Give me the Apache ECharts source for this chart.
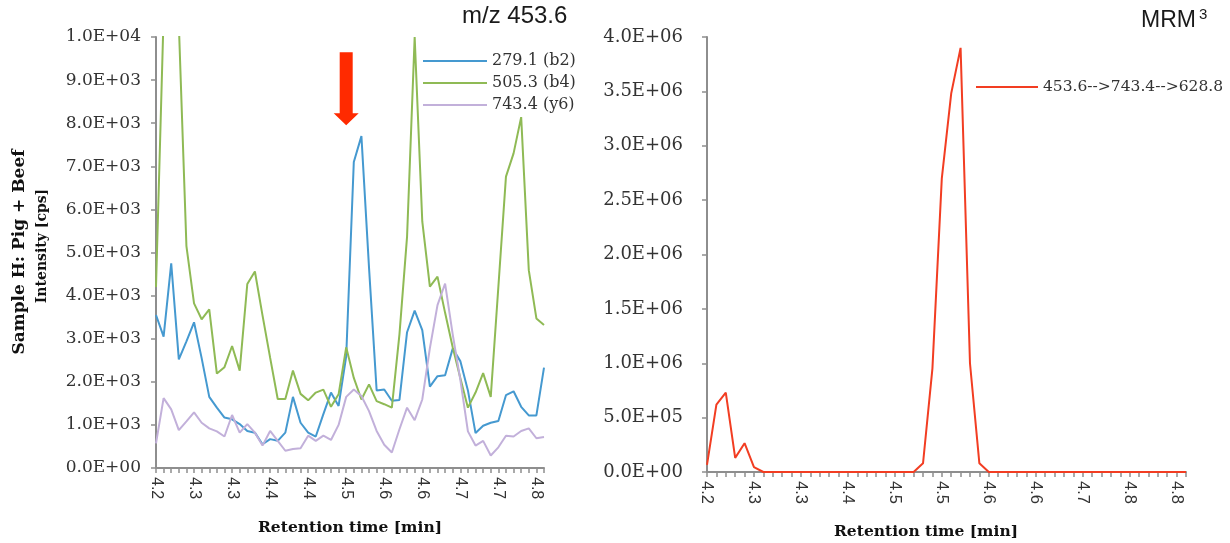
<!DOCTYPE html>
<html>
<head>
<meta charset="utf-8">
<title>Sample H: Pig + Beef</title>
<script src="https://cdn.jsdelivr.net/npm/echarts@6/dist/echarts.min.js"></script>
<style>
  html, body { margin: 0; padding: 0; background: #fff; }
  #chart { width: 1230px; height: 543px; }
</style>
</head>
<body>
<div id="chart"></div>
<script>
// retention times (min), one per scan
var leftTimes = ['4.200','4.212','4.224','4.236','4.248','4.260','4.272','4.284','4.296','4.308',
  '4.320','4.332','4.344','4.356','4.368','4.380','4.392','4.404','4.416','4.428',
  '4.440','4.452','4.464','4.476','4.488','4.500','4.512','4.524','4.536','4.548',
  '4.560','4.572','4.584','4.596','4.608','4.620','4.632','4.644','4.656','4.668',
  '4.680','4.692','4.704','4.716','4.728','4.740','4.752','4.764','4.776','4.788',
  '4.800','4.812'];
var rightTimes = ['4.200','4.213','4.225','4.238','4.250','4.263','4.276','4.288','4.301','4.313',
  '4.326','4.339','4.351','4.364','4.376','4.389','4.402','4.414','4.427','4.439',
  '4.452','4.465','4.477','4.490','4.502','4.515','4.528','4.540','4.553','4.565',
  '4.578','4.591','4.603','4.616','4.628','4.641','4.654','4.666','4.679','4.691',
  '4.704','4.717','4.729','4.742','4.754','4.767','4.780','4.792','4.805','4.817',
  '4.830','4.843'];

// intensities [cps]
var b2 = [3550,3050,4750,2520,2940,3380,2550,1650,1400,1170,
  1130,1020,860,820,550,670,630,820,1650,1050,
  820,730,1250,1750,1440,2590,7100,7700,4650,1800,
  1820,1560,1580,3150,3650,3200,1890,2130,2150,2770,
  2480,1800,810,980,1050,1090,1690,1780,1420,1220,
  1220,2330];
var b4 = [4200,10500,14000,10300,5150,3820,3450,3680,2190,2340,
  2830,2260,4270,4560,3540,2560,1600,1600,2260,1720,
  1570,1750,1820,1420,1710,2800,2090,1590,1940,1550,
  1480,1400,3100,5370,10000,5720,4210,4440,3600,2800,
  2090,1400,1750,2200,1650,4200,6760,7300,8140,4590,
  3470,3320];
var y6 = [570,1620,1360,880,1080,1290,1050,920,850,730,
  1230,820,1020,820,520,860,630,400,440,460,
  750,630,750,650,1000,1650,1820,1670,1320,860,
  540,360,900,1400,1110,1590,2780,3780,4280,3100,
  2050,850,520,630,290,480,750,730,860,920,
  690,720];
var mrm3 = [65000,620000,730000,130000,265000,45000,0,0,0,0,
  0,0,0,0,0,0,0,0,0,0,
  0,0,0,80000,950000,2700000,3480000,3900000,1000000,80000,
  0,0,0,0,0,0,0,0,0,0,
  0,0,0,0,0,0,0,0,0,0,
  0,0];

var seriesNames = ['279.1 (b2)', '505.3 (b4)', '743.4 (y6)'];
var mrmName = '453.6-->743.4-->628.8';

var axisGrey = '#8e8e8e';
var textDark = '#333';

// 1.0E+04 style labels, like excel
function sci(v) {
  var s = Number(v).toExponential(1).toUpperCase();
  var parts = s.split('E');
  var exp = parseInt(parts[1], 10);
  var sign = exp < 0 ? '-' : '+';
  exp = Math.abs(exp);
  return parts[0] + 'E' + sign + (exp < 10 ? '0' : '') + exp;
}

function timeLabel(v) {
  return Number(v).toFixed(1);
}

function valueAxis(idx, max, step, size, gap) {
  return {
    type: 'value',
    gridIndex: idx,
    min: 0,
    max: max,
    interval: step,
    axisLine: { show: true, lineStyle: { color: axisGrey, width: 2 } },
    axisTick: { show: true, length: 5, lineStyle: { color: axisGrey, width: 1.5 } },
    splitLine: { show: false },
    axisLabel: { formatter: sci, fontFamily: 'DejaVu Serif', fontSize: size, color: textDark, margin: gap }
  };
}

function timeAxis(idx, cats, size) {
  return {
    type: 'category',
    gridIndex: idx,
    data: cats,
    boundaryGap: false,
    axisLine: { show: true, onZero: false, lineStyle: { color: axisGrey, width: 2 } },
    axisTick: { show: true, interval: 0, length: 5, lineStyle: { color: axisGrey, width: 1.5 } },
    splitLine: { show: false },
    axisLabel: {
      interval: 4, rotate: -90, formatter: timeLabel,
      fontFamily: 'Liberation Sans', fontSize: size, color: textDark, margin: 9
    }
  };
}

var chart = echarts.init(document.getElementById('chart'), null, { renderer: 'canvas' });

var option = {
  animation: false,
  backgroundColor: '#fff',
  grid: [
    { left: 156, top: 37, width: 388, height: 431 },
    { left: 707, top: 37, width: 479, height: 435 }
  ],
  xAxis: [timeAxis(0, leftTimes, 16), timeAxis(1, rightTimes, 16.5)],
  yAxis: [valueAxis(0, 10000, 1000, 17, 15), valueAxis(1, 4000000, 500000, 18, 24)],
  legend: [
    {
      data: seriesNames,
      orient: 'vertical',
      left: 418, top: 48,
      itemWidth: 64, itemHeight: 2, itemGap: 6,
      icon: 'rect',
      textStyle: { fontFamily: 'DejaVu Serif', fontSize: 16, color: textDark }
    },
    {
      data: [mrmName],
      left: 971, top: 74,
      itemWidth: 62, itemHeight: 2,
      icon: 'rect',
      textStyle: { fontFamily: 'DejaVu Serif', fontSize: 15.5, color: textDark }
    }
  ],
  graphic: [
    { type: 'text', left: 462, top: 4, style: { text: 'm/z 453.6', font: '24px "Liberation Sans"', fill: '#1a1a1a' } },
    { type: 'text', left: 1141, top: 9, style: { text: 'MRM', font: '23px "Liberation Sans"', fill: '#1a1a1a' } },
    { type: 'text', left: 1199, top: 7, style: { text: '3', font: '15px "Liberation Sans"', fill: '#1a1a1a' } },
    // y axis titles (rotated)
    { type: 'text', x: 20, y: 252, rotation: Math.PI / 2,
      style: { text: 'Sample H: Pig + Beef', font: 'bold 17px "DejaVu Serif"', fill: '#111', align: 'center', verticalAlign: 'middle' } },
    { type: 'text', x: 42, y: 246, rotation: Math.PI / 2,
      style: { text: 'Intensity [cps]', font: 'bold 14px "DejaVu Serif"', fill: '#111', align: 'center', verticalAlign: 'middle' } },
    // x axis titles
    { type: 'text', x: 350, y: 528,
      style: { text: 'Retention time [min]', font: 'bold 15.5px "DejaVu Serif"', fill: '#111', align: 'center', verticalAlign: 'middle' } },
    { type: 'text', x: 926, y: 532,
      style: { text: 'Retention time [min]', font: 'bold 15.5px "DejaVu Serif"', fill: '#111', align: 'center', verticalAlign: 'middle' } }
  ],
  series: [
    {
      name: seriesNames[0], type: 'line', xAxisIndex: 0, yAxisIndex: 0,
      data: b2, symbol: 'none',
      lineStyle: { color: '#4599d0', width: 2 }, itemStyle: { color: '#4599d0' },
      // red arrow pointing at the b2 peak
      markPoint: {
        silent: true,
        symbol: 'path://M6,0 L19,0 L19,61 L25,61 L12.5,73 L0,61 L6,61 Z',
        symbolSize: [25, 73],
        symbolKeepAspect: false,
        label: { show: false },
        itemStyle: { color: '#ff2a00' },
        data: [{ coord: [25, 8800] }]
      }
    },
    {
      name: seriesNames[1], type: 'line', xAxisIndex: 0, yAxisIndex: 0,
      data: b4, symbol: 'none',
      lineStyle: { color: '#8fba55', width: 2 }, itemStyle: { color: '#8fba55' }
    },
    {
      name: seriesNames[2], type: 'line', xAxisIndex: 0, yAxisIndex: 0,
      data: y6, symbol: 'none',
      lineStyle: { color: '#c2b0da', width: 2 }, itemStyle: { color: '#c2b0da' }
    },
    {
      name: mrmName, type: 'line', xAxisIndex: 1, yAxisIndex: 1,
      data: mrm3, symbol: 'none',
      lineStyle: { color: '#f23d22', width: 2 }, itemStyle: { color: '#f23d22' }
    }
  ]
};

chart.setOption(option);
</script>
</body>
</html>
